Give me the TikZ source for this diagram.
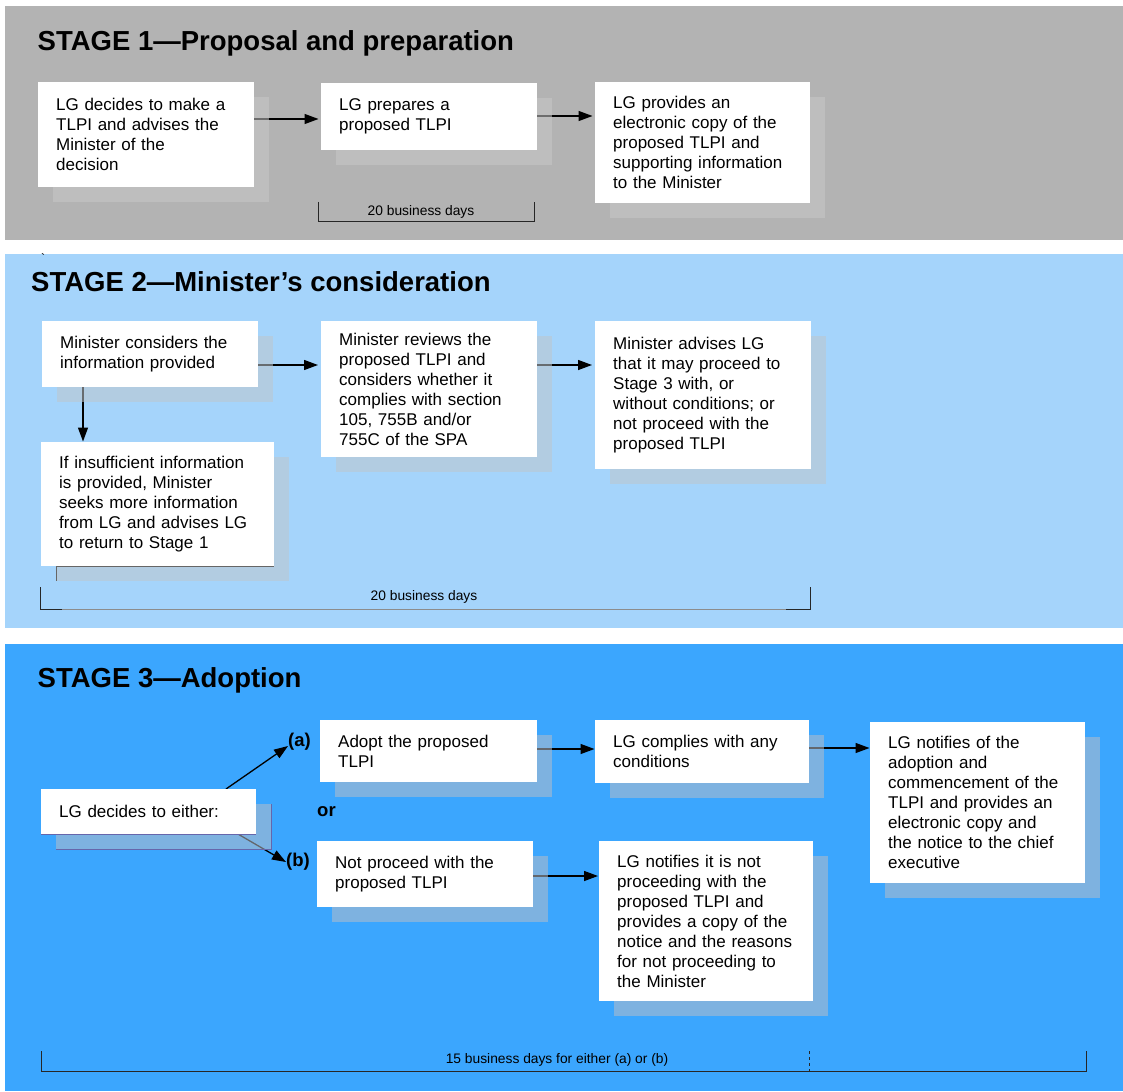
\documentclass[tikz,border=0pt]{standalone}
\usepackage{fontspec}
\setmainfont{Liberation Sans}
\usetikzlibrary{arrows.meta,calc}
\pgfdeclarelayer{bg}\pgfdeclarelayer{lines}
\pgfsetlayers{bg,lines,main}
\definecolor{panelA}{RGB}{179,179,179}
\definecolor{panelB}{RGB}{165,212,251}
\definecolor{panelC}{RGB}{59,166,254}
\definecolor{shA}{RGB}{200,200,200}
\definecolor{shB}{RGB}{189,198,205}
\definecolor{shC}{RGB}{182,189,200}
\tikzset{
  flow/.style={fill=white, anchor=north west, inner xsep=18pt, inner ysep=0pt, align=left,
    font=\fontsize{17}{20}\selectfont, text=black},
  shad/.style={fill=#1, fill opacity=0.55, anchor=north west, inner sep=0pt},
  arr/.style={-{Triangle[length=14pt,width=10pt]}, line width=1.3pt},
  stitle/.style={anchor=base west, font=\bfseries\fontsize{27.5}{30}\selectfont, inner sep=0pt},
  small/.style={anchor=base, font=\fontsize{13.8}{16}\selectfont, inner sep=0pt},
  lab/.style={anchor=west, font=\bfseries\fontsize{18.5}{20}\selectfont, inner sep=0pt},
  brk/.style={line width=1pt, draw=black!85},
  edge/.style={line width=0.7pt, draw=black!60},
}
\newcommand\fbx[7]{%
  \node[shad=#6, minimum width=#4pt, minimum height=#5pt] (#1s) at (#2+15,#3+15) {};
  \node[flow, text width=#4pt-36pt, minimum height=#5pt] (#1) at (#2,#3) {#7};
}
\begin{document}
\begin{tikzpicture}[x=1pt,y=-1pt]
\useasboundingbox (0,0) rectangle (1123,1091);
\begin{pgfonlayer}{bg}
  \fill[white] (0,0) rectangle (1123,1091);
  \fill[panelA] (5,6) rectangle (1123,240);
  \fill[panelB] (5,254) rectangle (1123,628);
  \fill[panelC] (5,644) rectangle (1123,1091);
\end{pgfonlayer}

% ---------- Stage 1
\node[stitle] (t1) at (37.5,51) {STAGE 1—Proposal and preparation};
\fbx{A}{38}{82}{216}{105}{shA}{LG decides to make a\\TLPI and advises the\\Minister of the\\decision}
\fbx{B}{321}{83}{216}{67}{shA}{LG prepares a\\proposed TLPI}
\fbx{C}{595}{82}{215}{121}{shA}{LG provides an\\electronic copy of the\\proposed TLPI and\\supporting information\\to the Minister}
\draw[brk] (318,202) -- (318,222) -- (534,222) -- (534,202);
\node[small] (d1) at (421,215) {20 business days};

% ---------- Stage 2
\node[inner sep=0pt, font=\fontsize{12}{12}\selectfont] (tick) at (43,258) {\textasciigrave};
\node[stitle] (t2) at (31,291) {STAGE 2—Minister’s consideration};
\fbx{D}{42}{321}{216}{66}{shB}{Minister considers the\\information provided}
\fbx{E}{41}{442}{233}{124}{shB}{If insufficient information\\is provided, Minister\\seeks more information\\from LG and advises LG\\to return to Stage 1}
\fbx{F}{321}{321}{216}{136}{shB}{Minister reviews the\\proposed TLPI and\\considers whether it\\complies with section\\105, 755B and/or\\755C of the SPA}
\fbx{G}{595}{321}{216}{148}{shB}{Minister advises LG\\that it may proceed to\\Stage 3 with, or\\without conditions; or\\not proceed with the\\proposed TLPI}
\draw[edge] (Es.west |- E.south) -- (E.south east);
\draw[edge] (Es.west |- E.south) -- (Es.south west);
\draw[line width=1pt, draw=black!45] (40.4,609) -- (810.7,609);
\draw[brk] (62,609) -- (40.4,609) -- (40.4,587);
\draw[brk] (786,609) -- (810.7,609) -- (810.7,587);
\node[small] (d2) at (424,600) {20 business days};

% ---------- Stage 3
\node[stitle] (t3) at (37.5,687) {STAGE 3—Adoption};
\fbx{H}{41}{789}{215}{45}{shC}{LG decides to either:}
\fbx{I}{320}{720}{217}{62}{shC}{Adopt the proposed\\TLPI}
\fbx{J}{317}{841}{216}{66}{shC}{Not proceed with the\\proposed TLPI}
\fbx{K}{595}{720}{214}{63}{shC}{LG complies with any\\conditions}
\fbx{M}{870}{722}{215}{161}{shC}{LG notifies of the\\adoption and\\commencement of the\\TLPI and provides an\\electronic copy and\\the notice to the chief\\executive}
\fbx{L}{599}{841}{214}{160}{shC}{LG notifies it is not\\proceeding with the\\proposed TLPI and\\provides a copy of the\\notice and the reasons\\for not proceeding to\\the Minister}
\draw[edge, draw=black!55!blue!60] (H.south west) -- (H.south east);
\draw[edge, draw=black!55!blue!60] (Hs.south west) -- (Hs.south east) -- (Hs.north east);
\node[lab] (la) at (288,742) {(a)};
\node[lab] (lb) at (286,862) {(b)};
\node[lab] (or) at (317,812) {or};
\draw[brk] (41.8,1051) -- (41.8,1071) -- (1086.8,1071) -- (1086.8,1051);
\draw[brk, dash pattern=on 3pt off 3pt] (809.3,1051) -- (809.3,1071);
\node[small] (d3) at (557,1063) {15 business days for either (a) or (b)};

% ---------- connectors (below shadows)
\begin{pgfonlayer}{lines}
  \path ($(A.north east)+(0,37)$) coordinate (ab);
  \draw[arr, shorten >=2.5pt] (ab) -- (ab -| B.west);
  \path ($(B.north east)+(0,33)$) coordinate (bc);
  \draw[arr, shorten >=2.5pt] (bc) -- (bc -| C.west);
  \path ($(D.south west)+(41,0)$) coordinate (de);
  \draw[arr, shorten >=0.5pt] (de) -- (de |- E.north);
  \path ($(D.north east)+(0,44)$) coordinate (df);
  \draw[arr, shorten >=3pt] (df) -- (df -| F.west);
  \draw[arr, shorten >=3pt] (df -| F.east) -- (df -| G.west);
  \path ($(H.north west)+(185,0)$) coordinate (ha);
  \path ($(la.west)+(0,4)$) coordinate (la1);
  \draw[arr] (ha) -- (la1);
  \path ($(H.south west)+(197.6,0)$) coordinate (hb);
  \draw[arr] (hb) -- (lb.west);
  \path ($(I.north east)+(0,29)$) coordinate (ik);
  \draw[arr, shorten >=0.5pt] (ik) -- (ik -| K.west);
  \path ($(K.north east)+(0,28)$) coordinate (km);
  \draw[arr, shorten >=0.5pt] (km) -- (km -| M.west);
  \path ($(J.north east)+(0,35)$) coordinate (jl);
  \draw[arr, shorten >=1pt] (jl) -- (jl -| L.west);
\end{pgfonlayer}
\end{tikzpicture}
\end{document}
